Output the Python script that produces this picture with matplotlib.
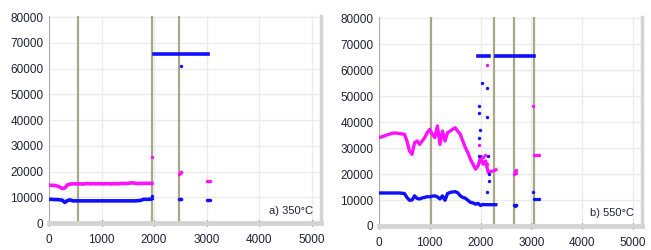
import numpy as np
import matplotlib
import matplotlib.pyplot as plt

matplotlib.use('Agg')

# ---- panel a) 350 C ----
a_x = list(range(0, 2000, 50)) + [1960]
a_x = sorted(a_x)
a_mag = [14700, 14600, 14600, 14400, 14000, 13400, 13600, 14800, 15100, 15200,
         15200, 15200, 15200, 15100, 15300, 15300, 15200, 15300, 15200, 15300,
         15200, 15200, 15300, 15200, 15200, 15300, 15200, 15300, 15400, 15300,
         15400, 15500, 15600, 15400, 15300, 15400, 15400, 15400, 15400, 15400, 15400]
a_blue = [9200, 9200, 9100, 9100, 9000, 8900, 8000, 8700, 9000, 8600,
          8600, 8600, 8600, 8600, 8600, 8600, 8600, 8600, 8600, 8600,
          8600, 8600, 8600, 8600, 8600, 8600, 8600, 8600, 8600, 8600,
          8600, 8600, 8600, 8600, 8700, 8800, 9200, 9200, 9200, 9300, 9400]
a_sat_x = [1990, 3020]
a_mag_pts_x = [1960, 2470, 2490, 2510, 2520, 3000, 3020, 3040, 3060]
a_mag_pts_y = [25500, 19000, 19500, 20000, 19800, 16500, 16500, 16500, 16500]
a_blue_pts_x = [1960, 2470, 2490, 2510, 2520, 2520, 3000, 3020, 3040, 3060]
a_blue_pts_y = [10500, 9500, 9500, 9500, 9500, 61000, 9000, 9000, 9000, 9000]
a_vlines = [560, 1960, 2480]

# ---- panel b) 550 C ----
b_x = list(range(0, 2350, 50))
b_mag = [34000, 34300, 34600, 35000, 35300, 35600, 35800, 35700, 35600, 35400,
         35300, 32700, 28900, 27600, 32000, 32700, 31400, 32700, 34000, 35900,
         37200, 35300, 34000, 38500, 31400, 36500, 32700, 35900, 36500, 37200,
         37800, 36500, 35300, 32700, 30200, 28200, 25700, 23800, 21900, 23100,
         26300, 23800, 25000, 20600, 21000, 21200, 21600]
b_blue = [12700, 12700, 12700, 12700, 12700, 12700, 12700, 12700, 12700, 12600,
          12500, 11000, 9900, 10000, 11600, 10600, 10400, 10800, 11000, 11300,
          11200, 11500, 11600, 11200, 10400, 11600, 9900, 12500, 12900, 13100,
          13200, 12800, 11600, 11000, 10700, 9900, 9100, 8900, 8400, 8700,
          7900, 8300, 8200, 8200, 8200, 8200, 8200]
b_sat1_x = [1950, 2160]
b_sat2_x = [2300, 3050]
b_mag_pts_x = [1960, 2000, 2040, 2080, 2130, 2130, 2650, 2670, 2690, 2700, 3040,
               3050, 3080, 3110, 3150]
b_mag_pts_y = [31000, 27000, 26500, 27500, 62000, 24000, 20000, 21000, 21500, 20500, 46000,
               27500, 27500, 27500, 27500]
b_blue_pts_x = [1960, 1965, 1980, 1970, 1960, 2020, 2130, 2130, 2140, 2160, 2170, 2130,
                2650, 2670, 2690, 2700, 3040, 3050, 3080, 3110, 3150]
b_blue_pts_y = [46000, 43500, 37000, 34000, 27000, 55000, 53000, 42000, 27000, 20000, 17500, 13000,
                8000, 7800, 7900, 8000, 13000, 10500, 10500, 10500, 10500]
b_vlines = [1030, 2255, 2650, 3045]

SAT = 65535
MAG = '#ff10ff'
BLUE = '#1010ff'
VCOL = '#a8a888'

plt.rcParams['font.family'] = ['Liberation Sans', 'DejaVu Sans']

fig = plt.figure(figsize=(6.51, 2.5), dpi=100)
ax_a = fig.add_axes([0.0753, 0.108, 0.4178, 0.829])
ax_b = fig.add_axes([0.5822, 0.096, 0.404, 0.837])


def style(ax, label):
    ax.set_xlim(0, 5180)
    ax.set_ylim(0, 80500)
    ax.set_xticks(range(0, 6000, 1000))
    ax.set_yticks(range(0, 90000, 10000))
    ax.grid(True, color='#ebebeb', lw=1)
    ax.set_axisbelow(True)
    ax.spines['top'].set_visible(False)
    ax.spines['left'].set_color('#b0b0a0')
    ax.spines['right'].set_color('#d4d4d4')
    ax.spines['right'].set_linewidth(2.5)
    ax.spines['bottom'].set_color('#d4d4d4')
    ax.spines['bottom'].set_linewidth(3.5)
    ax.tick_params(axis='y', length=0, pad=4, labelsize=8.5, labelcolor='#222233')
    ax.tick_params(axis='x', length=4, direction='inout', color='#555555',
                   pad=6, labelsize=8.5, labelcolor='#222233')
    ax.text(0.97, 0.06, label, transform=ax.transAxes, ha='right', va='center',
            fontsize=8, color='#222233')


for ax, vl in ((ax_a, a_vlines), (ax_b, b_vlines)):
    for v in vl:
        ax.axvline(v, color=VCOL, lw=1.6, zorder=1)

# a)
ax_a.plot(a_x, a_mag, color=MAG, lw=2.6, zorder=3)
ax_a.plot(a_x, a_blue, color=BLUE, lw=2.6, zorder=3)
ax_a.plot(a_sat_x, [SAT, SAT], color=BLUE, lw=2.6, zorder=3)
ax_a.scatter(a_mag_pts_x, a_mag_pts_y, s=6, color=MAG, zorder=3, linewidths=0)
ax_a.scatter(a_blue_pts_x, a_blue_pts_y, s=6, color=BLUE, zorder=3, linewidths=0)
style(ax_a, 'a) 350°C')

# b)
ax_b.plot(b_x, b_mag, color=MAG, lw=2.4, zorder=3)
ax_b.plot(b_x, b_blue, color=BLUE, lw=2.4, zorder=3)
ax_b.plot(b_sat1_x, [SAT, SAT], color=BLUE, lw=2.6, zorder=3)
ax_b.plot(b_sat2_x, [SAT, SAT], color=BLUE, lw=2.6, zorder=3)
ax_b.scatter(b_mag_pts_x, b_mag_pts_y, s=6, color=MAG, zorder=3, linewidths=0)
ax_b.scatter(b_blue_pts_x, b_blue_pts_y, s=6, color=BLUE, zorder=3, linewidths=0)
style(ax_b, 'b) 550°C')

fig.savefig('out.png', dpi=100)
